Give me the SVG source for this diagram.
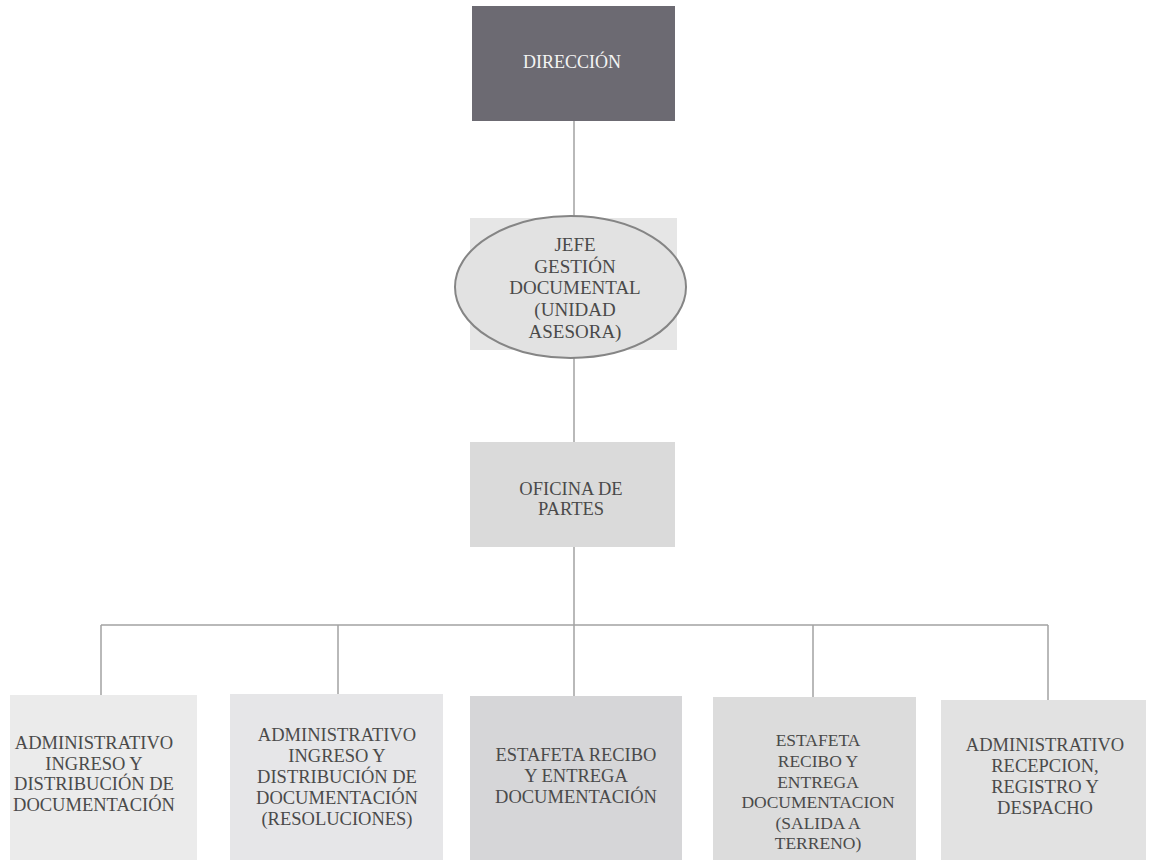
<svg xmlns="http://www.w3.org/2000/svg" width="1151" height="860" viewBox="0 0 1151 860">
<style>
.t{font-family:"Liberation Serif","Times New Roman",serif;font-size:18.5px;fill:#4a4a4a;text-anchor:middle}
.w{fill:#f4f4f4;font-size:18px}
.c{stroke:#a3a3a3;stroke-width:1.5;fill:none}
.b{stroke:none}
</style>
<rect width="1151" height="860" fill="#ffffff"/>
<g id="connectors">
<path class="c" d="M574 121V216M574 358V442M574 547V625M101 625H1048M101 625V695M338 625V695M574 625V696M813 625V697M1048 625V700"/>
</g>
<g id="direccion">
<rect x="472" y="6" width="203" height="115" fill="#6c6a72"/>
<text class="t w" x="572" y="68">DIRECCIÓN</text>
</g>
<g id="jefe">
<rect x="470" y="218" width="207" height="132" fill="#e6e6e6"/>
<ellipse cx="570.5" cy="287" rx="115.5" ry="71" fill="#e2e2e2" stroke="#858585" stroke-width="2"/>
<text class="t" style="font-size:19px" x="575" y="251">JEFE</text>
<text class="t" style="font-size:19px" x="575" y="273">GESTIÓN</text>
<text class="t" style="font-size:19px" x="575" y="294">DOCUMENTAL</text>
<text class="t" style="font-size:19px" x="575" y="316">(UNIDAD</text>
<text class="t" style="font-size:19px" x="575" y="338">ASESORA)</text>
</g>
<g id="oficina">
<rect x="470" y="442" width="205" height="105" fill="#dadada"/>
<text class="t" x="571" y="495">OFICINA DE</text>
<text class="t" x="571" y="515">PARTES</text>
</g>
<g id="admin1">
<rect x="10" y="695" width="187" height="165" fill="#ebebeb"/>
<text class="t" x="94" y="749">ADMINISTRATIVO</text>
<text class="t" x="94" y="770">INGRESO Y</text>
<text class="t" x="94" y="790">DISTRIBUCIÓN DE</text>
<text class="t" x="94" y="811">DOCUMENTACIÓN</text>
</g>
<g id="admin2">
<rect x="230" y="694" width="213" height="166" fill="#e6e6e8"/>
<text class="t" x="337" y="741">ADMINISTRATIVO</text>
<text class="t" x="337" y="762">INGRESO Y</text>
<text class="t" x="337" y="783">DISTRIBUCIÓN DE</text>
<text class="t" x="337" y="804">DOCUMENTACIÓN</text>
<text class="t" x="337" y="825">(RESOLUCIONES)</text>
</g>
<g id="estafeta1">
<rect x="470" y="696" width="212" height="164" fill="#d6d6d8"/>
<text class="t" x="576" y="761">ESTAFETA RECIBO</text>
<text class="t" x="576" y="782">Y ENTREGA</text>
<text class="t" x="576" y="803">DOCUMENTACIÓN</text>
</g>
<g id="estafeta2">
<rect x="713" y="697" width="203" height="163" fill="#dcdcdc"/>
<text class="t" style="font-size:17.5px" x="818" y="746">ESTAFETA</text>
<text class="t" style="font-size:17.5px" x="818" y="767">RECIBO Y</text>
<text class="t" style="font-size:17.5px" x="818" y="788">ENTREGA</text>
<text class="t" style="font-size:17.5px" x="818" y="808">DOCUMENTACION</text>
<text class="t" style="font-size:17.5px" x="818" y="829">(SALIDA A</text>
<text class="t" style="font-size:17.5px" x="818" y="849">TERRENO)</text>
</g>
<g id="admin3">
<rect x="941" y="700" width="205" height="160" fill="#e2e2e2"/>
<text class="t" x="1045" y="751">ADMINISTRATIVO</text>
<text class="t" x="1045" y="772">RECEPCION,</text>
<text class="t" x="1045" y="793">REGISTRO Y</text>
<text class="t" x="1045" y="814">DESPACHO</text>
</g>
</svg>
